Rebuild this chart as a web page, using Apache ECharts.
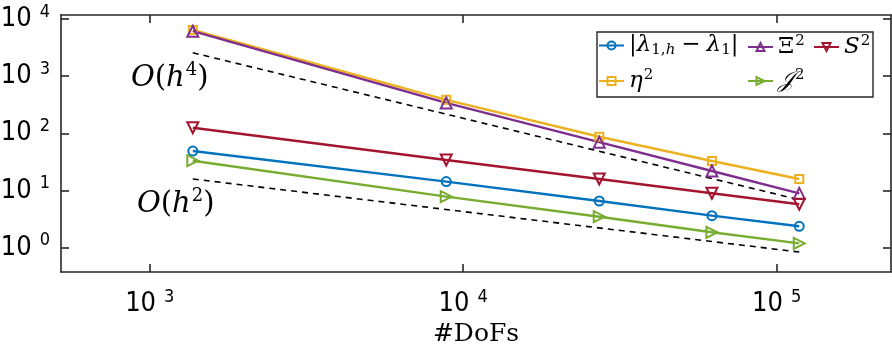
<!DOCTYPE html>
<html><head><meta charset="utf-8">
<script src="https://cdn.jsdelivr.net/npm/echarts@6/dist/echarts.min.js"></script>
<style>html,body{margin:0;padding:0;background:#fff}#c{width:892px;height:352px}</style>
</head><body><div id="c"></div>
<script>
// ---- data ----
const dofs = [1372, 8830, 27170, 62170, 118100];
const errLambda = [49, 14.3, 6.55, 3.63, 2.37];     // |lambda_{1,h} - lambda_1|
const eta2 = [6400, 385, 87, 32.8, 15.9];          // eta^2
const xi2 = [6100, 340, 70, 21.9, 8.9];            // Xi^2
const jump2 = [33.2, 7.8, 3.48, 1.86, 1.19];       // J^2
const s2 = [125, 34.1, 15.9, 8.93, 5.74];          // S^2
const refH4X = [1372, 118100];
const refH4Y = [2560, 6.9];
const refH2X = [1372, 118100];
const refH2Y = [15.9, 0.84];
const xTicks = [1e3, 1e4, 1e5];
const yTicks = [1, 10, 100, 1000, 10000];

const C = { blue:'#0072BD', yellow:'#EDB120', purple:'#7E2F8E', green:'#77AC30', red:'#A2142F' };
const AX = '#262626';
const serif = "'DejaVu Serif','Liberation Serif',serif";
const narrow = "'Liberation Sans Narrow','DejaVu Sans Condensed','Liberation Sans',sans-serif";

const pairs = (xs, ys) => xs.map((x, i) => [x, ys[i]]);

const LF = 23;
const legendRich = {
  i: { fontFamily: serif, fontStyle: 'italic', fontSize: LF, color: '#000' },
  r: { fontFamily: serif, fontSize: LF, color: '#000' },
  m: { fontFamily: serif, fontSize: LF, color: '#000', padding: [0, 6, 0, 6] },
  sub: { fontFamily: serif, fontSize: 15, color: '#000', padding: [10, 0, 0, 0] },
  subi: { fontFamily: serif, fontStyle: 'italic', fontSize: 15, color: '#000', padding: [10, 0, 0, 0] },
  sup: { fontFamily: serif, fontSize: 15, color: '#000', padding: [0, 0, 11, 1] },
  scr: { fontFamily: "'DejaVu Serif','DejaVu Sans',serif", fontStyle: 'italic', fontSize: LF, color: '#000' }
};
const legendText = {
  lam: '{r||}{i|λ}{sub|1,}{subi|h}{m|−}{i|λ}{sub|1}{r||}',
  xi: '{r|Ξ}{sup|2}',
  s2: '{i|S}{sup|2}',
  eta: '{i|η}{sup|2}',
  jump: '{scr|𝒥}{sup|2}'
};
function leg(name, left, top) {
  return {
    show: true, data: [name], left: left, top: top, orient: 'horizontal',
    itemWidth: 25, itemHeight: 10, itemGap: 0, padding: 0, selectedMode: false, z: 6,
    formatter: n => legendText[n],
    textStyle: { fontFamily: serif, fontSize: LF, color: '#000', rich: legendRich }
  };
}

const tickRich = {
  b: { fontFamily: narrow, fontSize: 27, color: '#000', lineHeight: 34 },
  sup: { fontFamily: narrow, fontSize: 18, color: '#000', padding: [0, 0, 14, 8] }
};
const fmtPow = v => '{b|10}{sup|' + Math.round(Math.log10(v)) + '}';

function mkSeries(name, ys, color, symbol, size, rot) {
  return {
    name: name, type: 'line', data: pairs(dofs, ys),
    xAxisIndex: 0, yAxisIndex: 0,
    symbol: symbol, symbolSize: size, symbolRotate: rot || 0, showSymbol: true,
    lineStyle: { color: color, width: 2.4 },
    itemStyle: { color: 'rgba(255,255,255,0)', borderColor: color, borderWidth: 2 },
    emphasis: { disabled: true }, animation: false, z: 3
  };
}
function refLine(xs, ys) {
  return {
    type: 'line', data: pairs(xs, ys), symbol: 'none', silent: true,
    lineStyle: { color: '#000', width: 1.6, type: [6, 5] }, animation: false, z: 2
  };
}

const axisCommon = {
  axisLine: { show: true, onZero: false, lineStyle: { color: AX, width: 1.6 } },
  splitLine: { show: false }, minorTick: { show: false }
};
const tickStyle = { show: true, inside: true, length: 8, lineStyle: { color: AX, width: 1.6 } };

const ohRich = {
  i: { fontFamily: serif, fontStyle: 'italic', fontSize: 29, fill: '#000' },
  r: { fontFamily: serif, fontSize: 29, fill: '#000' },
  sup: { fontFamily: serif, fontSize: 18, fill: '#000', padding: [0, 0, 16, 1] }
};

const option = {
  animation: false,
  backgroundColor: '#fff',
  grid: { left: 61, right: 1, top: 15, bottom: 80, outerBoundsMode: 'none' },
  xAxis: [
    Object.assign({}, axisCommon, {
      type: 'log', logBase: 10, min: 521, max: 231700, position: 'bottom',
      axisTick: Object.assign({ customValues: xTicks }, tickStyle),
      axisLabel: { show: true, customValues: xTicks, formatter: fmtPow, margin: 15, rich: tickRich },
      name: '#DoFs', nameLocation: 'middle', nameGap: 48,
      nameTextStyle: { fontFamily: serif, fontSize: 25, color: '#000' }
    }),
    Object.assign({}, axisCommon, {
      type: 'log', logBase: 10, min: 521, max: 231700, position: 'top',
      axisTick: Object.assign({ customValues: xTicks }, tickStyle),
      axisLabel: { show: false }
    })
  ],
  yAxis: [
    Object.assign({}, axisCommon, {
      type: 'log', logBase: 10, min: 0.376, max: 11700, position: 'left',
      axisTick: Object.assign({ customValues: yTicks }, tickStyle),
      axisLabel: { show: true, customValues: yTicks, formatter: fmtPow, margin: 11, rich: tickRich }
    }),
    Object.assign({}, axisCommon, {
      type: 'log', logBase: 10, min: 0.376, max: 11700, position: 'right',
      axisTick: Object.assign({ customValues: yTicks }, tickStyle),
      axisLabel: { show: false }
    })
  ],
  legend: [
    leg('lam', 598, 34),
    leg('eta', 598, 68),
    leg('xi', 747, 34),
    leg('jump', 747, 68),
    leg('s2', 813, 34)
  ],
  graphic: [
    { type: 'rect', z: 5, shape: { x: 597, y: 32, width: 276, height: 65 },
      style: { fill: '#fff', stroke: AX, lineWidth: 1.4 } },
    { type: 'text', z: 5, left: 131, top: 61,
      style: { text: '{i|O}{r|(}{i|h}{sup|4}{r|)}', rich: ohRich } },
    { type: 'text', z: 5, left: 137, top: 187,
      style: { text: '{i|O}{r|(}{i|h}{sup|2}{r|)}', rich: ohRich } }
  ],
  series: [
    refLine(refH4X, refH4Y),
    refLine(refH2X, refH2Y),
    mkSeries('lam', errLambda, C.blue, 'circle', 9),
    mkSeries('eta', eta2, C.yellow, 'rect', 8),
    mkSeries('xi', xi2, C.purple, 'triangle', 11),
    mkSeries('jump', jump2, C.green, 'triangle', 11, -90),
    mkSeries('s2', s2, C.red, 'triangle', 11, 180)
  ]
};
const chart = echarts.init(document.getElementById('c'), null, { renderer: 'canvas' });
chart.setOption(option);
</script>
</body></html>
